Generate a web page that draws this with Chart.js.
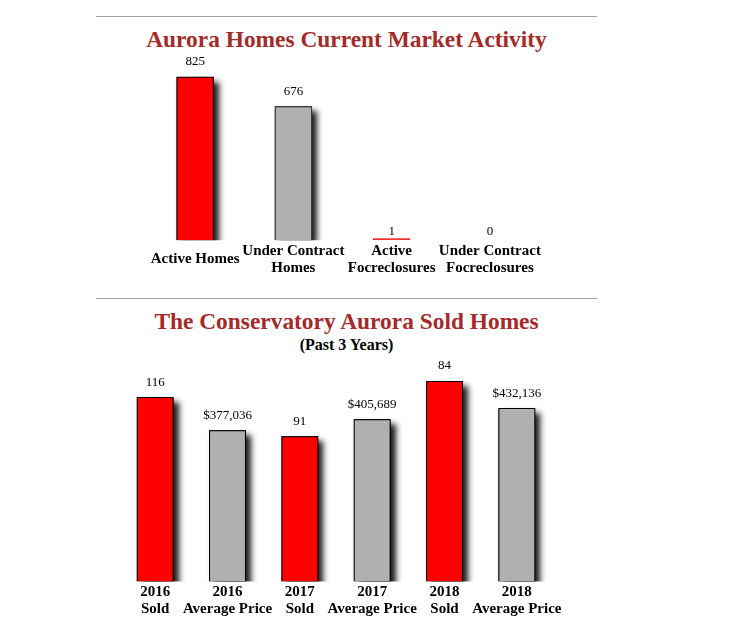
<!DOCTYPE html>
<html>
<head>
<meta charset="utf-8">
<script src="https://cdn.jsdelivr.net/npm/chart.js@4"></script>
<style>
  body { margin: 0; background: #fff; width: 748px; height: 635px; position: relative; overflow: hidden; font-family: "Liberation Serif", serif; }
  .rule { position: absolute; left: 96px; width: 501px; height: 0; border-top: 1px solid #a0a0a0; }
  .title { position: absolute; left: 96px; width: 501px; text-align: center; color: #a52a2a; font-weight: bold; font-size: 23.4px; line-height: 28px; }
  .sub { position: absolute; left: 96px; width: 501px; text-align: center; color: #000; font-weight: bold; font-size: 16px; line-height: 20px; }
  .box { position: absolute; left: 96px; width: 500px; }
</style>
</head>
<body>
<div class="rule" style="top:16px"></div>
<div class="title" style="top:25px">Aurora Homes Current Market Activity</div>
<div class="box" style="top:50px;height:246px"><canvas id="marketChart"></canvas></div>

<div class="rule" style="top:298px"></div>
<div class="title" style="top:307px">The Conservatory Aurora Sold Homes</div>
<div class="sub" style="top:335px">(Past 3 Years)</div>
<div class="box" style="top:355px;height:265px"><canvas id="soldChart"></canvas></div>

<script>
// --- data ---
const marketLabels = ["Active Homes", ["Under Contract", "Homes"], ["Active", "Focreclosures"], ["Under Contract", "Focreclosures"]];
const marketValues = [825, 676, 1, 0];
const marketColors = ["#ff0000", "#b0b0b0", "#ff0000", "rgba(0,0,0,0)"];
const marketBorders = ["#000000", "#333333", "#cc0000", "rgba(0,0,0,0)"];

const soldLabels = [["2016", "Sold"], ["2016", "Average Price"], ["2017", "Sold"], ["2017", "Average Price"], ["2018", "Sold"], ["2018", "Average Price"]];
const soldTexts = ["116", "$377,036", "91", "$405,689", "84", "$432,136"];
// bar heights as drawn in the picture (the page does not scale them to the values)
const soldBarHeights = [184, 151, 145, 162, 200, 173];
const soldColors = ["#ff0000", "#b0b0b0", "#ff0000", "#b0b0b0", "#ff0000", "#b0b0b0"];

const serif = '"Liberation Serif", "Times New Roman", serif';

// --- plugins ---
// soft drop shadow behind each bar
const barShadow = {
  id: "barShadow",
  beforeDatasetsDraw(chart) {
    const ctx = chart.ctx;
    const area = chart.chartArea;
    ctx.save();
    ctx.beginPath();
    ctx.rect(area.left, 0, area.right - area.left + 20, area.bottom);
    ctx.clip();
    chart.getDatasetMeta(0).data.forEach(bar => {
      const h = bar.base - bar.y;
      if (h < 5) return;
      ctx.shadowColor = "rgba(0,0,0,0.9)";
      ctx.shadowBlur = 6;
      ctx.shadowOffsetX = 5;
      ctx.shadowOffsetY = 5;
      ctx.fillStyle = "#000";
      ctx.fillRect(bar.x - bar.width / 2, bar.y, bar.width, h);
    });
    ctx.restore();
  }
};

// number above each bar
const valueLabels = {
  id: "valueLabels",
  afterDatasetsDraw(chart, args, opts) {
    const ctx = chart.ctx;
    ctx.save();
    ctx.font = "13px " + serif;
    ctx.fillStyle = "#000";
    ctx.textAlign = "center";
    ctx.textBaseline = "middle";
    chart.getDatasetMeta(0).data.forEach((bar, i) => {
      const h = bar.base - bar.y;
      const gap = h < 5 ? 7 : 15;
      ctx.fillText(opts.texts[i], bar.x, bar.y - gap);
    });
    ctx.restore();
  }
};

function xAxis(crossAlign, padding) {
  return {
    grid: { display: false, drawTicks: false },
    border: { display: false },
    ticks: {
      color: "#000",
      font: { family: serif, size: 15, weight: "bold", lineHeight: 1.15 },
      padding,
      maxRotation: 0,
      autoSkip: false,
      crossAlign
    }
  };
}

// --- top chart ---
new Chart(document.getElementById("marketChart"), {
  type: "bar",
  data: {
    labels: marketLabels,
    datasets: [{
      data: marketValues,
      backgroundColor: marketColors,
      borderColor: marketBorders,
      borderWidth: 1,
      minBarLength: 2,
      barPercentage: 0.38,
      categoryPercentage: 1
    }]
  },
  options: {
    responsive: true,
    maintainAspectRatio: false,
    animation: false,
    layout: { padding: { left: 50, right: 57, top: 0, bottom: 0 } },
    plugins: {
      legend: { display: false },
      tooltip: { enabled: false },
      valueLabels: { texts: marketValues.map(String) }
    },
    scales: {
      // centred cross alignment keeps "Active Homes" midway between the two-line labels
      x: xAxis("center", 10.6),
      y: { display: false, min: 0, max: 960 }
    }
  },
  plugins: [barShadow, valueLabels]
});

// --- bottom chart ---
new Chart(document.getElementById("soldChart"), {
  type: "bar",
  data: {
    labels: soldLabels,
    datasets: [{
      data: soldBarHeights,
      backgroundColor: soldColors,
      borderColor: "#000",
      borderWidth: 1,
      barPercentage: 0.51,
      categoryPercentage: 1
    }]
  },
  options: {
    responsive: true,
    maintainAspectRatio: false,
    animation: false,
    layout: { padding: { left: 23, right: 43, top: 0, bottom: 0 } },
    plugins: {
      legend: { display: false },
      tooltip: { enabled: false },
      valueLabels: { texts: soldTexts }
    },
    scales: {
      x: xAxis("near", 2),
      y: { display: false, min: 0, max: 226 }
    }
  },
  plugins: [barShadow, valueLabels]
});
</script>
</body>
</html>
